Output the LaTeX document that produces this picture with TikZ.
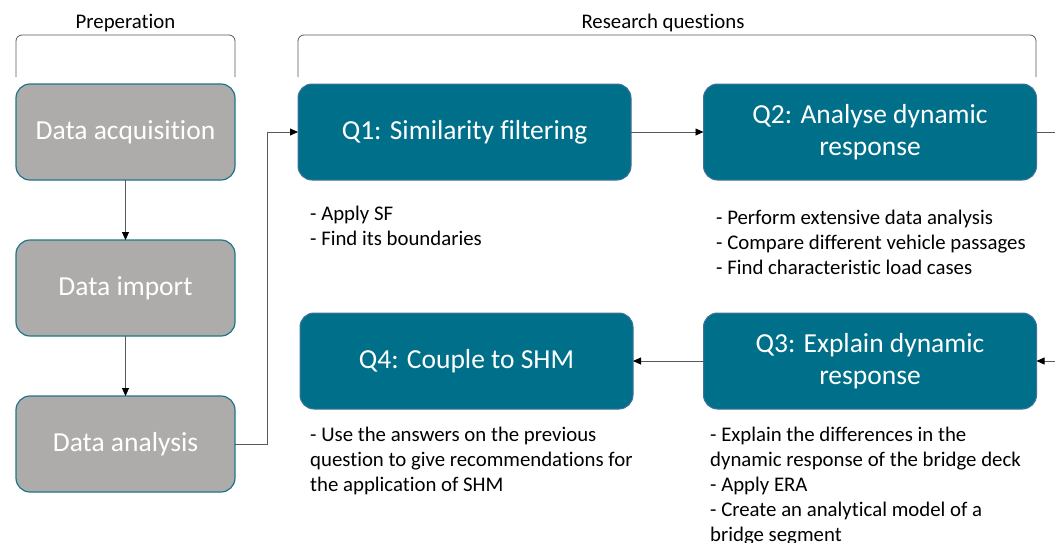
\documentclass[tikz,border=0pt]{standalone}
\usepackage{fontspec}
\setmainfont{Carlito}[Ligatures={NoCommon}]
\usetikzlibrary{arrows.meta}
\definecolor{rqfill}{HTML}{00708A}
\definecolor{rqborder}{HTML}{41719C}
\definecolor{prepfill}{HTML}{AEABAB}
\definecolor{prepborder}{HTML}{1E7689}
\definecolor{linegray}{HTML}{595959}
\begin{document}
\begin{tikzpicture}[x=1pt,y=-1pt,
  prep/.style={draw=prepborder, line width=1.2pt, fill=prepfill, rounded corners=14pt,
    minimum width=219pt, minimum height=96pt, inner sep=0pt, outer sep=0pt, text=white,
    font=\fontsize{27.5}{32}\selectfont},
  rq/.style={draw=rqborder, line width=1pt, fill=rqfill, rounded corners=14pt,
    minimum width=333pt, minimum height=96pt, inner sep=0pt, outer sep=0pt, text=white,
    align=center, font=\fontsize{27.5}{32}\selectfont},
  note/.style={anchor=north west, inner sep=0pt, align=left, font=\fontsize{20.8}{25}\selectfont},
  head/.style={inner sep=0pt, font=\fontsize{20.8}{24}\selectfont},
  brace/.style={draw=linegray, line width=0.8pt, rounded corners=6pt},
  arr/.style={draw=linegray, line width=0.8pt, -{Triangle[length=8pt,width=7pt,color=black]}},
  conn/.style={draw=linegray, line width=0.8pt}]
\useasboundingbox (0,0) rectangle (1055,542);

% Preparation column
\node[prep] (acq) at (125.5,132) {Data acquisition};
\node[prep] (imp) at (125.5,288) {Data import};
\node[prep] (ana) at (125.5,444) {Data analysis};

% Research questions
\node[rq] (q1) at (464.5,132) {Q1: Similarity filtering};
\node[rq] (q2) at (870,132) {Q2: Analyse dynamic\\response};
\node[rq] (q3) at (870,361) {Q3: Explain dynamic\\response};
\node[rq] (q4) at (466.5,361) {Q4: Couple to SHM};

% Headers and brackets
\node[head] (hprep) at (125.5,23) {Preperation};
\node[head] (hrq) at (663,23) {Research questions};
\draw[brace] (16,77) -- (16,35) -- (235,35) -- (235,77);
\draw[brace] (298,77) -- (298,35) -- (1036,35) -- (1036,77);

% Notes
\node[note] (n1) at (310,205.5) {- Apply SF\\- Find its boundaries};
\node[note] (n2) at (716,209.5) {- Perform extensive data analysis\\- Compare different vehicle passages\\- Find characteristic load cases};
\node[note] (n4) at (310,426.5) {- Use the answers on the previous\\question to give recommendations for\\the application of SHM};
\node[note] (n3) at (710,426.5) {- Explain the differences in the\\dynamic response of the bridge deck\\- Apply ERA\\- Create an analytical model of a\\bridge segment};

% Connectors
\coordinate (outA) at (1055,132);
\coordinate (inB) at (1055,361);
\draw[arr] (acq) -- (imp);
\draw[arr] (imp) -- (ana);
\draw[arr] (ana.east) -- ++(32,0) |- (q1.west);
\draw[arr] (q1) -- (q2);
\draw[conn] (q2.east) -- (outA);
\draw[arr] (inB) -- (q3.east);
\draw[arr] (q3) -- (q4);
\end{tikzpicture}
\end{document}
